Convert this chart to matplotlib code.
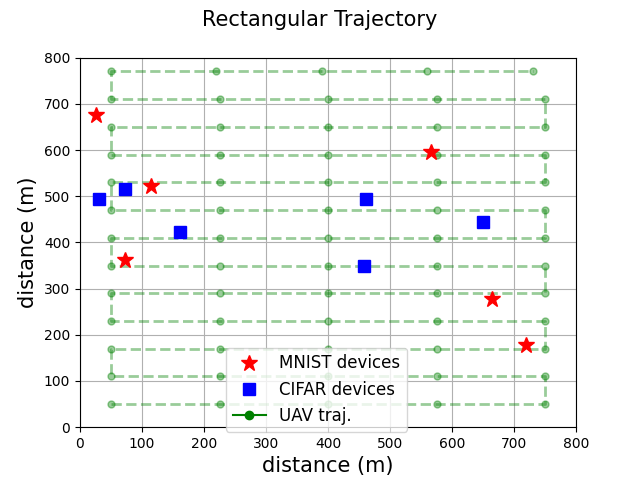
import matplotlib
matplotlib.use("Agg")
import matplotlib.pyplot as plt

# device positions (m)
mnist_x = [25, 115, 72, 566, 665, 719]
mnist_y = [675, 522, 362, 596, 277, 179]
cifar_x = [31, 73, 162, 461, 650, 458]
cifar_y = [494, 515, 423, 494, 444, 349]

# UAV trajectory: serpentine rows, waypoints per row
row_y = [50, 110, 170, 230, 290, 350, 410, 470, 530, 590, 650, 710, 770]
row_x = [50, 225, 400, 575, 750]
top_row_x = [50, 220, 390, 560, 730]

traj_x = []
traj_y = []
for i, y in enumerate(row_y):
    xs = top_row_x if i == len(row_y) - 1 else row_x
    if i % 2 == 1:
        xs = xs[::-1]
    traj_x += xs
    traj_y += [y] * len(xs)

fig, ax = plt.subplots(figsize=(6.4, 4.8), dpi=100)
fig.suptitle("Rectangular Trajectory", fontsize=15)

ax.plot(traj_x, traj_y, "g--o", alpha=0.4, linewidth=2, markersize=5)
ax.plot(mnist_x, mnist_y, "r*", markersize=12, linestyle="none", label="MNIST devices")
ax.plot(cifar_x, cifar_y, "bs", markersize=8, linestyle="none", label="CIFAR devices")
ax.plot([], [], "g-o", markersize=6, label="UAV traj.")

ax.set_xlim(0, 800)
ax.set_ylim(0, 800)
ax.set_xlabel("distance (m)", fontsize=15)
ax.set_ylabel("distance (m)", fontsize=15)
ax.grid(True)
ax.legend(loc="lower center", fontsize=12, bbox_to_anchor=(0.477, -0.035))

fig.savefig("out.png")
